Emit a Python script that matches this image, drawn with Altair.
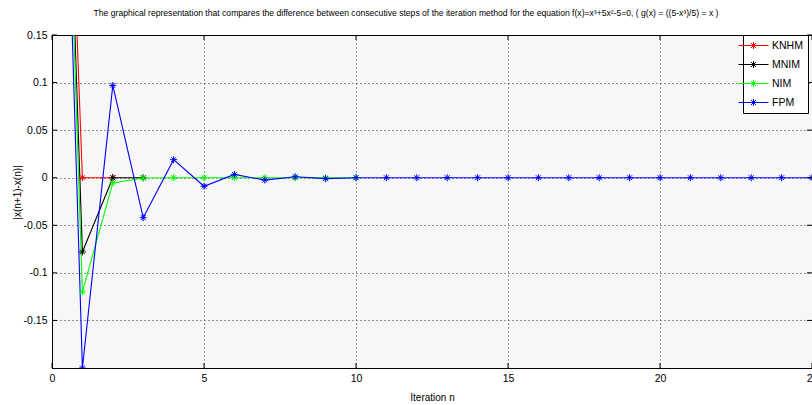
import altair as alt
import pandas as pd

# Iteration index and the step differences of each method
knhm_n = [0, 1, 2]
knhm = [0.85, 0.0, 0.0]

mnim_n = [0, 1, 2, 3]
mnim = [0.85, -0.078, 0.0, 0.0]

nim_n = [0, 1, 2, 3, 4, 5, 6, 7, 8, 9, 10]
nim = [0.85, -0.12, -0.0055, -0.0003, 0.0, 0.0, 0.0, 0.0, 0.0, 0.0, 0.0]

fpm_n = [0, 1, 2, 3, 4, 5, 6, 7, 8, 9, 10, 11, 12, 13, 14, 15, 16, 17, 18,
         19, 20, 21, 22, 23, 24, 25]
fpm = [0.85, -0.2, 0.097, -0.042, 0.019, -0.009, 0.0035, -0.0025, 0.001,
       -0.001, 0.0, 0.0, 0.0, 0.0, 0.0, 0.0, 0.0, 0.0, 0.0, 0.0, 0.0, 0.0,
       0.0, 0.0, 0.0, 0.0]

methods = ["KNHM", "MNIM", "NIM", "FPM"]
colors = ["#ff0000", "#000000", "#00ff00", "#0000ff"]

x_ticks = [0, 5, 10, 15, 20, 25]
y_ticks = [-0.15, -0.1, -0.05, 0, 0.05, 0.1, 0.15]

rows = []
for name, ns, vals in [("KNHM", knhm_n, knhm), ("MNIM", mnim_n, mnim),
                       ("NIM", nim_n, nim), ("FPM", fpm_n, fpm)]:
    for n, v in zip(ns, vals):
        rows.append({"method": name, "n": n, "diff": v})
df = pd.DataFrame(rows)
x_tick_df = pd.DataFrame({"n": x_ticks})
y_tick_df = pd.DataFrame({"diff": y_ticks})

FONT = "Liberation Sans, Arial, sans-serif"

# six-armed asterisk marker, like MATLAB's '*'
ASTERISK = "M-1,0L1,0M0,-1L0,1M-0.7,-0.7L0.7,0.7M-0.7,0.7L0.7,-0.7"
# legend key: line segment with an asterisk in the middle
LEGEND_KEY = ("M-3,0L3,0M0,-0.7L0,0.7M-0.5,-0.5L0.5,0.5"
              "M-0.5,0.5L0.5,-0.5")

W, H = 760, 333
TICK = 5  # length of the inward tick marks

x_scale = alt.Scale(domain=[0, 25], nice=False, zero=False)
y_scale = alt.Scale(domain=[-0.2, 0.15], nice=False, zero=False)

x_enc = alt.X(
    "n:Q",
    scale=x_scale,
    axis=alt.Axis(
        values=x_ticks, title="Iteration n", labelExpr="datum.value + ''",
        labelFlush=False,
        titleX=W / 2, titleY=29, titleBaseline="middle", titleAlign="center",
    ),
)
y_enc = alt.Y(
    "diff:Q",
    scale=y_scale,
    axis=alt.Axis(
        values=y_ticks, title="|x(n+1)-x(n)|", labelExpr="datum.value + ''",
        labelFlush=False,
        titleX=-35, titleY=157, titleAngle=270, titleBaseline="middle",
        titleAlign="center",
    ),
)
color_scale = alt.Scale(domain=methods, range=colors)
color_enc = alt.Color(
    "method:N",
    scale=color_scale,
    sort=methods,
    legend=alt.Legend(
        title=None, orient="none", legendX=691, legendY=0,
        symbolType=LEGEND_KEY, symbolSize=100, symbolStrokeWidth=1,
        symbolFillColor="transparent",
        labelFont=FONT, labelFontSize=10.5, labelColor="#000000",
        labelOffset=13, padding=5, rowPadding=8,
        fillColor="#ffffff", strokeColor="#000000",
    ),
)

# inward tick marks on all four sides of the box
x_ticks_bottom = alt.Chart(x_tick_df).mark_rule(color="#000000").encode(
    x=alt.X("n:Q", scale=x_scale), y=alt.value(H), y2=alt.value(H - TICK))
x_ticks_top = alt.Chart(x_tick_df).mark_rule(color="#000000").encode(
    x=alt.X("n:Q", scale=x_scale), y=alt.value(0), y2=alt.value(TICK))
y_ticks_left = alt.Chart(y_tick_df).mark_rule(color="#000000").encode(
    y=alt.Y("diff:Q", scale=y_scale), x=alt.value(0), x2=alt.value(TICK))
y_ticks_right = alt.Chart(y_tick_df).mark_rule(color="#000000").encode(
    y=alt.Y("diff:Q", scale=y_scale), x=alt.value(W - TICK), x2=alt.value(W))

lines = alt.Chart(df).mark_line(strokeWidth=1.1, clip=True).encode(
    x=x_enc, y=y_enc, color=color_enc, detail="method:N",
    order=alt.Order("n:Q"),
)
points = alt.Chart(df).mark_point(
    shape=ASTERISK, size=49, filled=False, strokeWidth=1, opacity=1, clip=True
).encode(
    x="n:Q", y="diff:Q",
    color=alt.Color("method:N", scale=color_scale, legend=None),
)

chart = alt.layer(
    lines, points, x_ticks_bottom, x_ticks_top, y_ticks_left, y_ticks_right
).properties(
    width=W, height=H,
    title=alt.TitleParams(
        "The graphical representation that compares the difference between "
        "consecutive steps of the iteration method for the equation "
        "f(x)=x³+5x²-5=0,  ( g(x) = ((5-x³)/5) = x )",
        font=FONT, fontSize=8.6, fontWeight="normal", color="#000000",
        anchor="middle", dx=-26, offset=12,
    ),
    autosize=alt.AutoSizeParams(type="none"),
    padding={"left": 52, "top": 35, "right": 0, "bottom": 37},
).configure(
    background="#ffffff",
).configure_view(
    fill="#f7f7f7", stroke="#000000", strokeWidth=1,
).configure_axis(
    domainColor="#000000", domainWidth=1,
    ticks=False,
    grid=True, gridColor="#000000", gridDash=[1, 3], gridOpacity=0.8,
    labelFont=FONT, labelFontSize=10.5, labelColor="#000000", labelPadding=5,
    titleFont=FONT, titleFontSize=10, titleFontWeight="normal",
    titleColor="#000000",
)

chart.save("out.html", embed_options={"renderer": "svg", "actions": False})
